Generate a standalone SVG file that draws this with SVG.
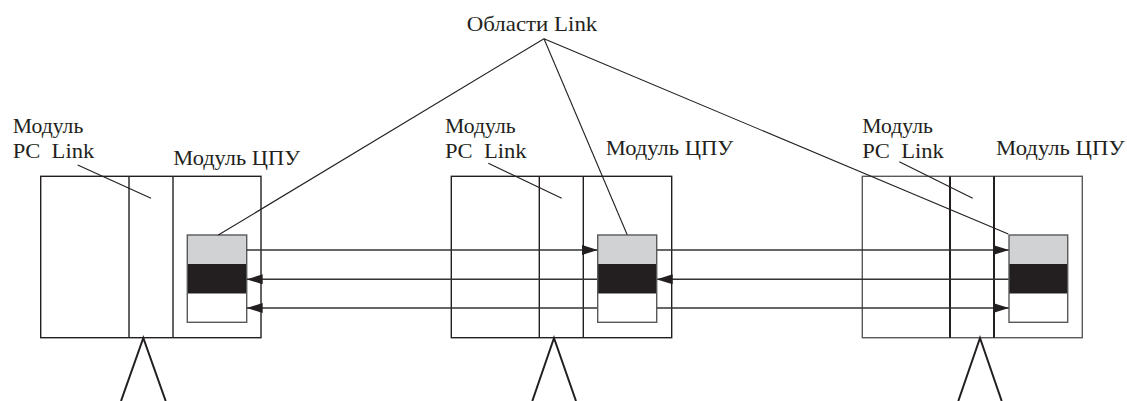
<svg xmlns="http://www.w3.org/2000/svg" width="1127" height="401" viewBox="0 0 1127 401">
<style>
text{font-family:"Liberation Serif","Times New Roman",serif;font-size:21px;fill:#231f20}
.box{fill:none;stroke:#231f20;stroke-width:1.4}
.div{stroke:#231f20;stroke-width:1.4}
.leg{stroke:#231f20;stroke-width:2;fill:none}
.lead{stroke:#231f20;stroke-width:1.1;fill:none}
.bk{stroke:#58595b;stroke-width:1.4}
.arr{stroke:#333;stroke-width:1.4;fill:none}
</style>
<defs>
<marker id="ah" viewBox="0 0 16 10" refX="16" refY="5" markerWidth="16" markerHeight="10" markerUnits="userSpaceOnUse" orient="auto-start-reverse">
<path d="M0,0 L16,5 L0,10 Z" fill="#231f20"/>
</marker>
</defs>
<rect width="1127" height="401" fill="#fff"/>
<g id="label-link-areas">
<text x="466.7" y="31" textLength="130.6" lengthAdjust="spacingAndGlyphs">Области Link</text>
</g>
<g id="node1">
<text x="12.7" y="133" textLength="70.6" lengthAdjust="spacingAndGlyphs">Модуль</text>
<text x="12.7" y="158" xml:space="preserve" textLength="81.6" lengthAdjust="spacingAndGlyphs">PC  Link</text>
<text x="173.3" y="165" textLength="126.7" lengthAdjust="spacingAndGlyphs">Модуль ЦПУ</text>
<rect class="box" x="40.7" y="176.3" width="220.3" height="161.4"/>
<line class="div" x1="129" y1="176.3" x2="129" y2="337.7"/>
<line class="div" x1="173" y1="176.3" x2="173" y2="337.7"/>
<rect x="187.3" y="235" width="59.4" height="29" fill="#d1d2d4"/>
<rect x="187.3" y="264" width="59.4" height="29.7" fill="#231f20"/>
<rect x="187.3" y="293.7" width="59.4" height="28.6" fill="#fff"/>
<rect class="bk" x="187.3" y="235" width="59.4" height="87.3" fill="none"/>
<polyline class="leg" points="121,401 143.3,338 165.7,401"/>
</g>
<g id="node2">
<text x="445" y="133" textLength="70.6" lengthAdjust="spacingAndGlyphs">Модуль</text>
<text x="445" y="158" xml:space="preserve" textLength="81.6" lengthAdjust="spacingAndGlyphs">PC  Link</text>
<text x="605.7" y="155" textLength="127.5" lengthAdjust="spacingAndGlyphs">Модуль ЦПУ</text>
<rect class="box" x="451.3" y="176.3" width="220.4" height="161.4"/>
<line class="div" x1="539.3" y1="176.3" x2="539.3" y2="337.7"/>
<line class="div" x1="583.3" y1="176.3" x2="583.3" y2="337.7"/>
<polyline class="leg" points="532.3,401 554,338 576,401"/>
</g>
<g id="node3">
<text x="862.3" y="133" textLength="70.6" lengthAdjust="spacingAndGlyphs">Модуль</text>
<text x="862.3" y="158" xml:space="preserve" textLength="81.6" lengthAdjust="spacingAndGlyphs">PC  Link</text>
<text x="996" y="155" textLength="128.5" lengthAdjust="spacingAndGlyphs">Модуль ЦПУ</text>
<rect class="box" x="862.3" y="176.3" width="220" height="161.4" style="stroke:#58595b"/>
<line class="div" x1="950" y1="176.3" x2="950" y2="337.7" style="stroke-width:2"/>
<line class="div" x1="994" y1="176.3" x2="994" y2="337.7" style="stroke-width:2"/>
<polyline class="leg" points="958.3,401 980,338 1001.7,401"/>
</g>
<g id="connectors">
<line class="arr" x1="246.7" y1="250" x2="597.7" y2="250" marker-end="url(#ah)"/>
<line class="arr" x1="656.7" y1="250" x2="1009" y2="250" marker-end="url(#ah)"/>
<line class="arr" x1="246.7" y1="279.3" x2="597.7" y2="279.3" marker-start="url(#ah)"/>
<line class="arr" x1="656.7" y1="279.3" x2="1009" y2="279.3" marker-start="url(#ah)"/>
<line class="arr" x1="246.7" y1="308" x2="1009" y2="308" marker-start="url(#ah)" marker-end="url(#ah)"/>
<line class="lead" x1="77.7" y1="165" x2="151" y2="198.3"/>
<line class="lead" x1="488.3" y1="163.3" x2="561.7" y2="198.3"/>
<line class="lead" x1="899.3" y1="161.7" x2="972.7" y2="198.3"/>
<line class="lead" x1="544" y1="38.7" x2="218.3" y2="235"/>
<line class="lead" x1="544" y1="38.7" x2="627.3" y2="235"/>
<line class="lead" x1="544" y1="38.7" x2="1008.3" y2="234"/>
</g>
<g id="node2-memory">
<rect x="597.7" y="235" width="59" height="29" fill="#d1d2d4"/>
<rect x="597.7" y="264" width="59" height="29.7" fill="#231f20"/>
<rect x="597.7" y="293.7" width="59" height="28.6" fill="#fff"/>
<rect class="bk" x="597.7" y="235" width="59" height="87.3" fill="none"/>
</g>
<g id="node3-memory">
<rect x="1009" y="235" width="58.7" height="29" fill="#d1d2d4"/>
<rect x="1009" y="264" width="58.7" height="29.7" fill="#231f20"/>
<rect x="1009" y="293.7" width="58.7" height="28.6" fill="#fff"/>
<rect class="bk" x="1009" y="235" width="58.7" height="87.3" fill="none"/>
</g>
</svg>
